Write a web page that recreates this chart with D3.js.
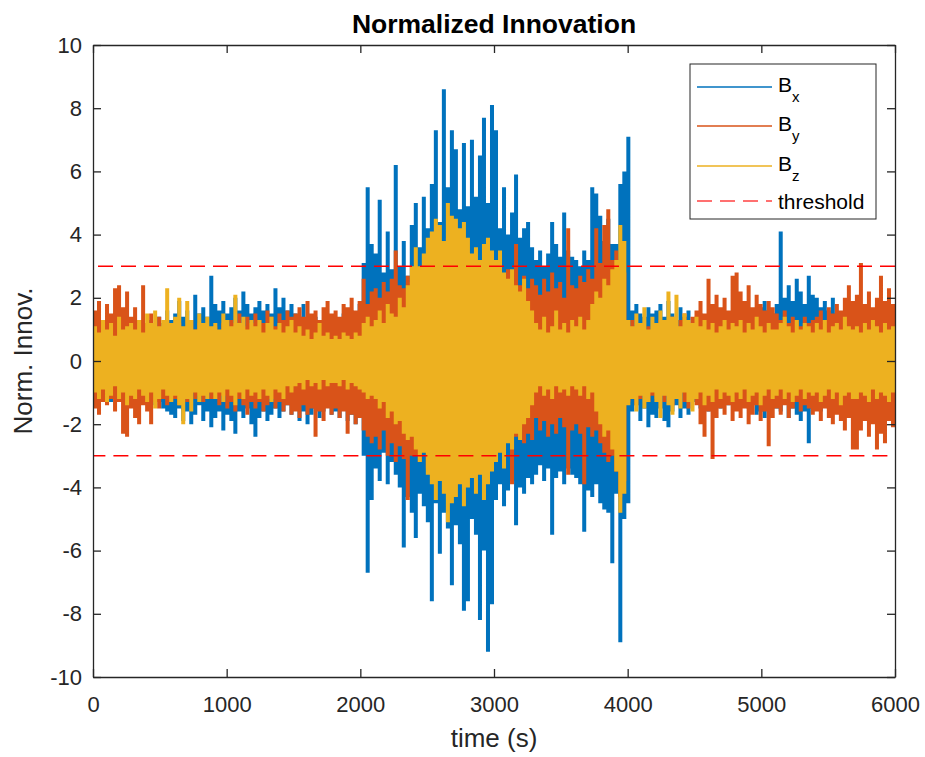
<!DOCTYPE html>
<html>
<head>
<meta charset="utf-8">
<script src="https://cdn.jsdelivr.net/npm/d3@7"></script>
<style>
    body { margin: 0; background: #ffffff; }
    svg text { font-family: 'Liberation Sans', Arial, Helvetica, sans-serif; fill: #262626; }
</style>
</head>
<body>
<svg class="innovChart" width="925" height="757"></svg>
<script>
var tStep = 30;

var bxHi = [
    1.0, 0.8, 1.1, 0.9, 1.2, 1.0, 0.8, 1.1, 0.9, 1.0,
    1.1, 0.9, 1.2, 1.0, 1.3, 1.1, 1.4, 1.2, 1.6, 1.3,
    1.5, 1.9, 1.4, 1.6, 1.3, 2.1, 1.5, 1.7, 1.4, 2.7,
    1.8, 1.6, 1.9, 1.5, 1.7, 2.0, 1.6, 2.2, 1.8, 1.5,
    1.7, 1.9, 1.6, 1.8, 1.5, 2.3, 1.7, 2.0, 1.6, 1.8,
    1.5, 1.4, 1.8, 1.3, 1.2, 1.4, 1.1, 1.3, 1.2, 1.4,
    1.3, 1.2, 1.5, 1.4, 1.6, 1.5, 1.8, 3.1, 5.5, 3.7,
    3.4, 5.1, 2.8, 4.1, 2.9, 6.2, 3.0, 3.8, 2.7, 4.3,
    5.0, 3.6, 5.2, 4.2, 5.6, 7.3, 4.4, 8.6, 5.5, 7.3,
    6.7, 4.8, 6.9, 4.9, 7.0, 5.2, 6.5, 7.7, 5.0, 8.1,
    7.3, 4.2, 5.5, 4.0, 4.7, 5.9, 3.9, 4.2, 4.4, 3.6,
    3.2, 3.5, 3.0, 3.4, 4.4, 3.7, 3.3, 4.7, 3.5, 3.3,
    3.2, 3.0, 3.5, 3.2, 5.5, 5.3, 4.6, 3.8, 4.5, 3.7,
    3.7, 5.6, 6.0, 7.1, 1.6, 1.8, 1.5, 1.4, 1.7, 1.5,
    1.6, 1.8, 1.4, 1.9, 1.5, 1.3, 1.7, 1.4, 1.6, 1.2,
    1.3, 1.5, 1.2, 1.4, 1.1, 1.3, 1.5, 1.2, 1.4, 1.3,
    1.2, 1.4, 1.3, 1.1, 1.5, 1.3, 1.7, 1.9, 1.6, 1.5,
    1.8, 4.1, 2.0, 2.4, 1.9, 2.6, 2.2, 1.8, 2.7, 2.1,
    2.0, 1.7, 1.9, 1.6, 2.0, 1.5, 1.3, 1.4, 1.2, 1.5,
    1.3, 1.2, 1.5, 1.1, 1.4, 1.8, 1.3, 1.9, 1.6, 1.4
];
var bxLo = [
    -1.3, -1.1, -1.2, -1.0, -1.3, -1.1, -0.9, -1.2, -1.0, -1.1,
    -1.2, -1.0, -1.3, -1.1, -1.2, -1.4, -1.3, -1.5, -1.6, -1.7,
    -1.8, -1.5, -1.9, -1.6, -2.0, -1.7, -1.4, -1.9, -1.6, -2.1,
    -1.8, -1.6, -2.2, -1.7, -1.9, -2.3, -1.6, -1.8, -1.5, -2.0,
    -2.4, -1.8, -1.6, -1.9, -1.7, -1.5, -1.8, -1.6, -1.4, -1.7,
    -1.5, -1.9, -1.6, -2.0, -1.7, -1.5, -1.8, -1.6, -1.4, -1.7,
    -1.6, -1.8, -1.5, -1.9, -1.7, -2.0, -1.8, -3.0, -6.7, -4.4,
    -3.4, -3.8, -2.9, -3.9, -3.2, -3.6, -4.0, -5.9, -4.3, -4.8,
    -5.6, -4.2, -4.6, -5.1, -7.6, -4.5, -6.1, -4.8, -5.3, -7.1,
    -5.2, -5.8, -7.9, -7.6, -5.0, -5.5, -8.2, -6.0, -9.2, -7.7,
    -4.4, -3.9, -4.6, -4.1, -3.8, -5.2, -4.0, -4.2, -3.7, -3.9,
    -3.6, -3.3, -3.8, -3.4, -5.5, -3.7, -3.5, -3.9, -3.4, -3.6,
    -3.7, -3.9, -5.4, -4.1, -4.3, -3.9, -4.5, -4.7, -4.8, -6.4,
    -4.2, -8.9, -5.0, -4.5, -1.6, -1.4, -1.9, -1.5, -2.1, -1.7,
    -1.8, -1.5, -1.9, -2.1, -1.6, -1.4, -1.8, -1.5, -1.7, -1.3,
    -1.3, -1.5, -1.2, -1.6, -1.4, -1.2, -1.5, -1.3, -1.4, -1.2,
    -1.3, -1.4, -1.2, -1.5, -1.3, -1.7, -1.6, -1.8, -1.4, -1.5,
    -1.5, -1.6, -1.3, -1.8, -1.5, -1.7, -1.9, -1.6, -2.6, -1.5,
    -1.4, -1.6, -1.3, -1.5, -1.2, -1.4, -1.3, -1.5, -1.2, -1.4,
    -1.3, -1.5, -1.2, -1.6, -1.4, -1.3, -1.5, -1.2, -1.7, -1.4
];

var byHi = [
    1.6, 1.9, 1.3, 1.8, 1.5, 2.3, 2.4, 1.7, 2.2, 1.4,
    1.7, 1.3, 2.4, 1.2, 1.5, 1.1, 1.4, 1.0, 1.3, 1.1,
    1.0, 1.2, 0.9, 1.1, 1.3, 1.0, 1.2, 0.9, 1.1, 1.0,
    1.1, 0.9, 1.2, 1.0, 1.3, 1.2, 1.5, 1.1, 1.4, 1.2,
    1.5, 1.3, 1.2, 1.6, 1.4, 1.1, 1.5, 1.3, 1.6, 1.4,
    1.5, 1.7, 1.4, 1.9, 1.5, 1.6, 1.3, 1.7, 1.9, 1.5,
    1.6, 1.4, 1.8, 1.7, 2.0, 1.6, 1.9, 2.6, 1.8, 2.2,
    2.3, 2.0, 2.5, 2.2, 2.6, 3.5, 2.4, 2.3, 2.7, 2.5,
    2.9, 2.7, 3.0, 3.2, 3.5, 3.6, 3.4, 3.3, 3.9, 3.8,
    3.6, 3.8, 3.4, 3.1, 3.0, 3.2, 2.9, 3.1, 3.3, 3.0,
    2.8, 3.2, 2.6, 2.9, 2.5, 3.7, 2.4, 2.7, 2.3, 2.6,
    2.4, 2.1, 2.6, 2.2, 2.8, 2.3, 2.5, 2.0, 4.2, 2.4,
    2.3, 2.7, 2.5, 2.9, 2.6, 4.2, 3.1, 4.3, 4.8, 3.2,
    3.5, 3.0, 2.8, 1.1, 1.3, 1.0, 1.2, 0.9, 1.1, 1.0,
    1.1, 1.3, 1.0, 1.2, 1.4, 1.1, 1.3, 1.5, 1.2, 1.4,
    1.6, 1.9, 1.5, 2.6, 1.8, 2.1, 1.7, 2.0, 1.6, 2.7,
    2.8, 2.2, 1.9, 2.4, 1.7, 2.1, 1.8, 1.6, 1.9, 1.7,
    1.5, 1.3, 1.6, 1.2, 1.4, 1.3, 1.1, 1.4, 1.2, 1.3,
    1.4, 1.6, 1.3, 1.7, 1.5, 1.8, 1.6, 2.0, 2.4, 1.9,
    2.1, 3.1, 1.8, 2.2, 1.7, 2.0, 2.7, 1.9, 2.3, 1.8
];
var byLo = [
    -1.5, -1.7, -1.3, -1.4, -1.2, -1.6, -1.3, -2.3, -2.4, -1.5,
    -1.8, -2.0, -1.4, -1.6, -2.0, -1.3, -1.5, -1.2, -1.4, -1.3,
    -1.2, -1.4, -1.1, -1.3, -1.0, -1.2, -1.1, -1.3, -1.0, -1.2,
    -1.2, -1.4, -1.1, -1.5, -1.3, -1.6, -1.2, -1.4, -1.7, -1.3,
    -1.5, -1.3, -1.6, -1.4, -1.2, -1.5, -1.3, -1.6, -1.4, -1.7,
    -1.6, -1.8, -1.4, -1.7, -1.5, -2.4, -1.6, -1.9, -1.5, -1.7,
    -1.5, -1.8, -1.6, -2.3, -1.7, -2.0, -1.8, -2.2, -2.4, -2.6,
    -2.4, -2.8, -2.2, -3.0, -2.6, -3.2, -2.7, -3.1, -4.4, -3.0,
    -3.0, -3.2, -2.8, -3.4, -3.6, -3.5, -3.3, -3.8, -4.0, -3.7,
    -3.6, -3.4, -3.8, -3.5, -3.3, -3.6, -3.2, -3.4, -3.5, -3.1,
    -2.4, -2.8, -2.5, -2.2, -3.9, -2.4, -2.1, -2.6, -2.3, -2.5,
    -1.8, -2.2, -1.9, -2.4, -2.0, -2.3, -1.8, -2.1, -3.6, -2.2,
    -2.0, -2.3, -3.9, -2.1, -2.4, -2.2, -2.6, -2.9, -3.2, -3.0,
    -3.5, -4.3, -3.8, -1.3, -1.1, -1.4, -1.2, -1.0, -1.3, -1.1,
    -1.2, -1.0, -1.3, -1.1, -1.4, -1.2, -1.0, -1.3, -1.5, -1.2,
    -1.4, -2.0, -2.4, -1.6, -3.1, -1.8, -1.5, -1.7, -1.4, -1.9,
    -1.6, -1.8, -1.5, -2.0, -1.7, -1.4, -1.9, -1.6, -2.7, -1.8,
    -1.5, -1.7, -1.4, -1.8, -1.5, -1.3, -1.6, -1.4, -1.5, -1.7,
    -1.6, -1.9, -1.5, -1.8, -2.0, -1.7, -1.9, -2.2, -1.8, -2.8,
    -2.8, -2.2, -1.9, -2.4, -2.0, -2.8, -2.3, -2.6, -1.9, -2.1
];

var bzHi = [
    1.1, 0.9, 1.3, 1.0, 1.2, 0.8, 1.4, 1.0, 1.1, 1.2,
    1.0, 1.3, 0.9, 1.5, 1.2, 1.6, 1.1, 1.3, 2.3, 1.2,
    1.4, 2.0, 1.1, 1.9, 1.3, 1.0, 1.5, 1.2, 1.4, 1.1,
    1.2, 1.0, 1.5, 1.3, 1.1, 2.1, 1.2, 1.4, 1.0, 1.3,
    1.1, 1.3, 0.9, 1.2, 1.4, 1.0, 1.2, 0.9, 1.1, 1.3,
    0.9, 1.1, 0.8, 1.0, 0.7, 0.9, 1.2, 0.8, 0.9, 0.7,
    0.8, 0.7, 0.9, 0.8, 0.7, 0.9, 0.8, 1.2, 1.4, 1.1,
    1.3, 1.6, 1.2, 1.8, 1.5, 1.4, 2.0, 1.7, 2.4, 3.0,
    3.6, 3.0, 3.4, 3.9, 4.1, 4.5, 4.3, 3.8, 5.0, 4.6,
    4.5, 4.2, 4.4, 3.9, 3.4, 3.6, 3.2, 3.7, 3.9, 3.5,
    3.2, 3.5, 2.8, 2.6, 2.9, 2.4, 2.2, 2.6, 1.9, 1.6,
    1.2, 1.0, 1.4, 0.9, 1.1, 1.6, 1.0, 1.2, 0.9, 1.3,
    1.1, 1.4, 1.0, 1.3, 1.8, 2.2, 2.0, 2.6, 2.4, 2.9,
    3.2, 4.3, 3.8, 1.3, 1.1, 1.5, 1.2, 1.7, 1.0, 1.4,
    1.2, 1.6, 1.3, 2.2, 1.4, 2.1, 1.1, 1.5, 1.3, 1.2,
    1.4, 1.1, 1.3, 1.0, 1.2, 0.9, 1.1, 1.3, 1.0, 1.2,
    1.1, 1.3, 0.9, 1.2, 1.0, 1.4, 1.1, 0.9, 1.2, 1.0,
    1.0, 1.2, 1.4, 1.1, 0.9, 1.3, 1.0, 1.2, 1.1, 0.9,
    1.2, 1.0, 1.3, 0.9, 1.1, 1.2, 1.0, 1.4, 1.1, 1.0,
    1.1, 0.9, 1.2, 1.0, 1.3, 1.1, 0.9, 1.2, 1.0, 1.1
];
var bzLo = [
    -1.0, -1.2, -0.9, -1.3, -1.1, -0.8, -1.2, -1.0, -1.4, -1.1,
    -1.2, -0.9, -1.1, -1.3, -1.0, -1.5, -1.2, -0.9, -1.1, -1.3,
    -1.1, -1.4, -2.0, -1.2, -1.6, -1.0, -1.3, -1.1, -1.2, -1.0,
    -1.2, -1.0, -1.3, -0.9, -1.1, -1.4, -1.0, -1.2, -0.9, -1.1,
    -1.0, -1.2, -0.9, -1.1, -1.3, -0.9, -1.0, -1.2, -0.8, -1.0,
    -0.8, -0.7, -0.9, -0.6, -0.8, -0.7, -0.9, -0.6, -0.8, -0.7,
    -0.7, -0.8, -0.6, -0.9, -0.7, -0.8, -0.9, -1.0, -1.2, -1.1,
    -1.2, -1.5, -1.3, -1.8, -1.6, -2.0, -1.9, -2.3, -2.5, -2.4,
    -2.8, -3.2, -2.9, -3.6, -3.9, -4.4, -3.8, -4.2, -5.1, -4.5,
    -4.3, -3.9, -4.6, -4.0, -3.7, -4.2, -3.6, -4.4, -3.9, -3.5,
    -3.2, -2.9, -3.4, -2.6, -2.8, -2.3, -2.5, -2.0, -1.8, -1.4,
    -1.0, -0.8, -1.1, -0.9, -1.2, -0.8, -1.0, -0.9, -1.1, -0.8,
    -0.9, -1.1, -0.8, -1.2, -1.0, -1.6, -2.0, -2.4, -2.2, -2.8,
    -3.5, -4.8, -4.2, -1.4, -1.2, -1.6, -1.1, -1.5, -1.3, -1.0,
    -1.3, -1.8, -1.1, -1.4, -1.7, -1.2, -1.5, -1.0, -1.3, -1.6,
    -1.2, -1.0, -1.4, -1.1, -1.3, -0.9, -1.2, -1.0, -1.1, -1.3,
    -1.0, -1.2, -0.9, -1.3, -1.1, -1.0, -1.4, -1.1, -0.9, -1.2,
    -1.1, -0.9, -1.2, -1.0, -1.3, -1.1, -0.9, -1.2, -1.0, -1.1,
    -1.0, -1.3, -1.1, -0.9, -1.2, -1.0, -1.4, -1.1, -1.0, -1.2,
    -1.2, -1.0, -1.1, -1.3, -0.9, -1.2, -1.0, -1.1, -1.3, -1.0
];

var thresholdLevel = 3;
var xTicks = [0, 1000, 2000, 3000, 4000, 5000, 6000];
var yTicks = [-10, -8, -6, -4, -2, 0, 2, 4, 6, 8, 10];
var legendSubs = ['x', 'y', 'z'];
var seriesColors = ['#0072BD', '#D95319', '#EDB120'];

drawInnovation('innovChart');

function drawInnovation(areaID) {
    var margin = { top: 45, right: 30, bottom: 80, left: 93 },
        width = 925 - margin.left - margin.right,
        height = 757 - margin.top - margin.bottom;
    var axisColor = '#262626';
    var tickLen = 8;

    var x = d3.scaleLinear().domain([0, 6000]).range([0, width]);
    var y = d3.scaleLinear().domain([-10, 10]).range([height, 0]);

    var svg = d3.select('.' + areaID);
    svg.append('rect')
        .attr('width', 925)
        .attr('height', 757)
        .attr('fill', '#ffffff');

    var chart = svg.append('g')
        .attr('transform', 'translate(' + margin.left + ',' + margin.top + ')');

    chart.append('clipPath')
        .attr('id', 'plotClip')
        .append('rect')
        .attr('width', width)
        .attr('height', height);

    // min/max band per slot, drawn as a step area so it reads like the dense trace
    var band = d3.area()
        .curve(d3.curveStepAfter)
        .x(function(d) { return x(d.t); })
        .y0(function(d) { return y(d.lo); })
        .y1(function(d) { return y(d.hi); });

    var series = [[bxHi, bxLo], [byHi, byLo], [bzHi, bzLo]];
    var plot = chart.append('g').attr('clip-path', 'url(#plotClip)');

    series.forEach(function(s, i) {
        plot.append('path')
            .datum(toPoints(s[0], s[1]))
            .attr('d', band)
            .attr('fill', seriesColors[i])
            .attr('stroke', 'none');
    });

    // threshold drawn as one path: +3 back to t=0, down, then -3 out again
    var thrLine = d3.line()
        .x(function(d) { return x(d[0]); })
        .y(function(d) { return y(d[1]); });
    var thrPts = [[6000, thresholdLevel], [0, thresholdLevel], [0, -thresholdLevel], [6000, -thresholdLevel]];
    plot.append('path')
        .datum(thrPts)
        .attr('d', thrLine)
        .attr('fill', 'none')
        .attr('stroke', '#FF0000')
        .attr('stroke-width', 1.5)
        .attr('stroke-dasharray', '15,8');

    // Axes, ticks pointing inward on all four sides
    var fmt = function(d) { return String(d); };
    var xAxis = d3.axisBottom(x).tickValues(xTicks).tickSize(-tickLen).tickSizeOuter(0).tickPadding(19).tickFormat(fmt);
    var yAxis = d3.axisLeft(y).tickValues(yTicks).tickSize(-tickLen).tickSizeOuter(0).tickPadding(11).tickFormat(fmt);
    var xTop = d3.axisTop(x).tickValues(xTicks).tickSize(-tickLen).tickSizeOuter(0).tickFormat('');
    var yRight = d3.axisRight(y).tickValues(yTicks).tickSize(-tickLen).tickSizeOuter(0).tickFormat('');

    chart.append('g').attr('class', 'x axis').attr('transform', 'translate(0,' + height + ')').call(xAxis);
    chart.append('g').attr('class', 'y axis').call(yAxis);
    chart.append('g').attr('class', 'axis').call(xTop);
    chart.append('g').attr('class', 'axis').attr('transform', 'translate(' + width + ',0)').call(yRight);

    chart.selectAll('.axis path, .axis line')
        .attr('stroke', axisColor)
        .attr('stroke-width', 1.3);
    chart.selectAll('.axis text')
        .attr('fill', axisColor)
        .style('font-size', '22px')
        .style('font-family', "'Liberation Sans', Arial, sans-serif");

    // Title
    chart.append('text')
        .attr('x', width / 2)
        .attr('y', 33 - margin.top)
        .attr('text-anchor', 'middle')
        .style('font-size', '26.5px')
        .style('font-weight', 'bold')
        .style('fill', '#000000')
        .text('Normalized Innovation');

    // Axis titles
    chart.append('text')
        .attr('x', width / 2)
        .attr('y', 747 - margin.top)
        .attr('text-anchor', 'middle')
        .style('font-size', '26px')
        .text('time (s)');

    chart.append('text')
        .attr('transform', 'translate(' + (32 - margin.left) + ',' + (height / 2) + ') rotate(-90)')
        .attr('text-anchor', 'middle')
        .style('font-size', '26px')
        .text('Norm. Innov.');

    // Legend
    var legend = chart.append('g')
        .attr('transform', 'translate(' + (690 - margin.left) + ',' + (64 - margin.top) + ')');
    legend.append('rect')
        .attr('width', 186)
        .attr('height', 155)
        .attr('fill', '#ffffff')
        .attr('stroke', axisColor)
        .attr('stroke-width', 1);

    var rowY = [23, 62, 102, 137];
    legendSubs.forEach(function(sub, i) {
        legend.append('line')
            .attr('x1', 7).attr('x2', 82)
            .attr('y1', rowY[i]).attr('y2', rowY[i])
            .attr('stroke', seriesColors[i])
            .attr('stroke-width', 1.3);
        var lbl = legend.append('text')
            .attr('x', 88)
            .attr('y', rowY[i] + 5)
            .style('font-size', '21px')
            .style('fill', '#000000');
        lbl.append('tspan').text('B');
        lbl.append('tspan')
            .attr('dy', 10)
            .style('font-size', '15px')
            .text(sub);
    });
    legend.append('line')
        .attr('x1', 7).attr('x2', 82)
        .attr('y1', rowY[3]).attr('y2', rowY[3])
        .attr('stroke', '#FF0000')
        .attr('stroke-opacity', 0.75)
        .attr('stroke-width', 1.3)
        .attr('stroke-dasharray', '15,8');
    legend.append('text')
        .attr('x', 88)
        .attr('y', rowY[3] + 8)
        .style('font-size', '21px')
        .style('fill', '#000000')
        .text('threshold');

    // pair the hi/lo values with their slot start time
    function toPoints(hi, lo) {
        var pts = hi.map(function(h, i) {
            return { t: i * tStep, hi: h, lo: lo[i] };
        });
        var last = pts[pts.length - 1];
        pts.push({ t: last.t + tStep, hi: last.hi, lo: last.lo }); // closes the final step
        return pts;
    }
}
</script>
</body>
</html>
